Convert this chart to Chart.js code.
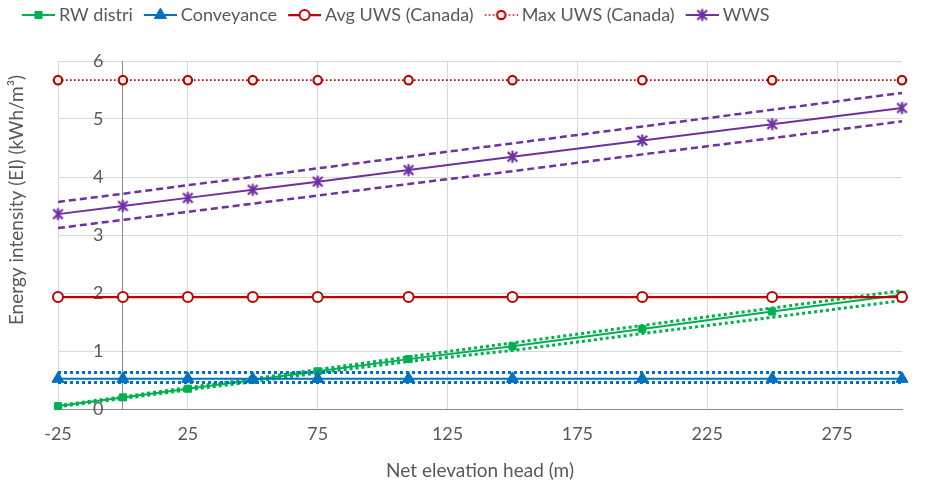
<!DOCTYPE html>
<html>
<head>
<meta charset="utf-8">
<script src="https://cdn.jsdelivr.net/npm/chart.js@4.4.0/dist/chart.umd.min.js"></script>
<style>
  html, body { margin: 0; padding: 0; background: #ffffff; }
  #wrap { width: 932px; height: 487px; position: relative; }
</style>
</head>
<body>
<div id="wrap"><canvas id="chart"></canvas></div>
<script>
// Net elevation head (m) at which each energy intensity was evaluated
const elevation = [-25, 0, 25, 50, 75, 110, 150, 200, 250, 300];
const xTicks = [-25, 25, 75, 125, 175, 225, 275];
const yTicks = [0, 1, 2, 3, 4, 5, 6];

// Energy intensity (kWh/m3)
const rwDistri     = [0.05, 0.20, 0.35, 0.50, 0.65, 0.86, 1.08, 1.38, 1.68, 1.97];
const rwDistriHigh = [0.06, 0.21, 0.37, 0.52, 0.68, 0.90, 1.14, 1.44, 1.74, 2.04];
const rwDistriLow  = [0.04, 0.18, 0.33, 0.47, 0.62, 0.82, 1.01, 1.30, 1.58, 1.87];
const conveyance     = [0.52, 0.52, 0.52, 0.52, 0.52, 0.52, 0.52, 0.52, 0.52, 0.52];
const conveyanceHigh = [0.63, 0.63, 0.63, 0.63, 0.63, 0.63, 0.63, 0.63, 0.63, 0.63];
const conveyanceLow  = [0.455, 0.455, 0.455, 0.455, 0.455, 0.455, 0.455, 0.455, 0.455, 0.455];
const avgUwsCanada = [1.93, 1.93, 1.93, 1.93, 1.93, 1.93, 1.93, 1.93, 1.93, 1.93];
const maxUwsCanada = [5.67, 5.67, 5.67, 5.67, 5.67, 5.67, 5.67, 5.67, 5.67, 5.67];
const wws     = [3.36, 3.50, 3.64, 3.78, 3.92, 4.12, 4.35, 4.63, 4.91, 5.19];
const wwsHigh = [3.57, 3.71, 3.86, 4.00, 4.15, 4.35, 4.58, 4.87, 5.16, 5.45];
const wwsLow  = [3.12, 3.26, 3.40, 3.54, 3.68, 3.88, 4.10, 4.39, 4.67, 4.96];

const GREEN = '#00B050', BLUE = '#0070C0', RED = '#C00000', PURPLE = '#7030A0';
const TEXT = '#595959', GRID = '#D9D9D9', AXIS = '#8C8C8C';
const FONT = 'Lato';

function pts(ys) { return elevation.map((x, i) => ({ x: x, y: ys[i] })); }

// six-armed asterisk marker
function asterisk(size, color, width) {
  const c = document.createElement('canvas');
  c.width = size; c.height = size;
  const g = c.getContext('2d');
  const m = size / 2, r = size / 2 - 1.5;
  g.strokeStyle = color; g.lineWidth = width; g.lineCap = 'butt';
  g.beginPath();
  g.moveTo(m, m - r); g.lineTo(m, m + r);
  g.moveTo(m - r * 0.8, m - r * 0.8); g.lineTo(m + r * 0.8, m + r * 0.8);
  g.moveTo(m + r * 0.8, m - r * 0.8); g.lineTo(m - r * 0.8, m + r * 0.8);
  g.stroke();
  return c;
}
const wwsMarker = asterisk(15, PURPLE, 2.3);

const boundBase = { pointRadius: 0, pointHoverRadius: 0, fill: false, tension: 0, clip: false };

const datasets = [
  Object.assign({ label: 'RW distri high', data: pts(rwDistriHigh), borderColor: GREEN, borderWidth: 3, borderDash: [3, 3], order: 12 }, boundBase),
  Object.assign({ label: 'RW distri low', data: pts(rwDistriLow), borderColor: GREEN, borderWidth: 3, borderDash: [3, 3], order: 11 }, boundBase),
  { label: 'RW distri', data: pts(rwDistri), borderColor: GREEN, backgroundColor: GREEN, borderWidth: 2,
    pointStyle: 'rect', pointRadius: 5, pointBorderWidth: 1, pointBackgroundColor: GREEN, pointBorderColor: GREEN,
    tension: 0, clip: false, order: 10 },
  Object.assign({ label: 'Conveyance high', data: pts(conveyanceHigh), borderColor: BLUE, borderWidth: 3, borderDash: [3, 3], order: 9 }, boundBase),
  Object.assign({ label: 'Conveyance low', data: pts(conveyanceLow), borderColor: BLUE, borderWidth: 3, borderDash: [3, 3], order: 8 }, boundBase),
  { label: 'Conveyance', data: pts(conveyance), borderColor: BLUE, backgroundColor: BLUE, borderWidth: 2,
    pointStyle: 'triangle', pointRadius: 7, pointBorderWidth: 1, pointBackgroundColor: BLUE, pointBorderColor: BLUE,
    tension: 0, clip: false, order: 7 },
  { label: 'Avg UWS (Canada)', data: pts(avgUwsCanada), borderColor: RED, backgroundColor: '#ffffff', borderWidth: 2.25,
    pointStyle: 'circle', pointRadius: 5, pointBorderWidth: 2, pointBackgroundColor: '#ffffff', pointBorderColor: RED,
    tension: 0, clip: false, order: 6 },
  { label: 'Max UWS (Canada)', data: pts(maxUwsCanada), borderColor: RED, backgroundColor: '#ffffff', borderWidth: 1.6, borderDash: [1.6, 2.4],
    pointStyle: 'circle', pointRadius: 4.2, pointBorderWidth: 2.2, pointBackgroundColor: '#ffffff', pointBorderColor: RED,
    tension: 0, clip: false, order: 5 },
  Object.assign({ label: 'WWS high', data: pts(wwsHigh), borderColor: PURPLE, borderWidth: 2.5, borderDash: [7, 4], order: 4 }, boundBase),
  Object.assign({ label: 'WWS low', data: pts(wwsLow), borderColor: PURPLE, borderWidth: 2.5, borderDash: [7, 4], order: 3 }, boundBase),
  { label: 'WWS', data: pts(wws), borderColor: PURPLE, backgroundColor: PURPLE, borderWidth: 2,
    pointStyle: wwsMarker, pointRadius: 7, pointBorderWidth: 0,
    tension: 0, clip: false, order: 2 }
];
const legendSeries = [2, 5, 6, 7, 10];

// legend swatch: a short stretch of the series line with its marker on it
function legendIcon(ds) {
  const W = 46, H = 18, x0 = 13, y = H / 2;
  const c = document.createElement('canvas');
  c.width = W; c.height = H;
  const g = c.getContext('2d');
  g.strokeStyle = ds.borderColor;
  g.lineWidth = ds.borderWidth;
  g.setLineDash(ds.borderDash || []);
  g.beginPath(); g.moveTo(x0, y); g.lineTo(W, y); g.stroke();
  g.setLineDash([]);
  const cx = (x0 + W) / 2;
  if (typeof ds.pointStyle === 'string') {
    g.fillStyle = ds.pointBackgroundColor;
    g.strokeStyle = ds.pointBorderColor;
    g.lineWidth = ds.pointBorderWidth;
    Chart.helpers.drawPoint(g, { pointStyle: ds.pointStyle, radius: ds.pointRadius, borderWidth: ds.pointBorderWidth, rotation: 0 }, cx, y);
  } else {
    g.drawImage(ds.pointStyle, cx - ds.pointStyle.width / 2, y - ds.pointStyle.height / 2);
  }
  return c;
}

const yTitle = {
  id: 'yTitle',
  afterDraw(chart) {
    const ctx = chart.ctx;
    ctx.save();
    ctx.translate(17, 200);
    ctx.rotate(-Math.PI / 2);
    ctx.font = '19px ' + FONT;
    ctx.fillStyle = TEXT;
    ctx.textAlign = 'center';
    ctx.textBaseline = 'middle';
    ctx.fillText('Energy intensity (EI) (kWh/m\u00B3)', 0, 0);
    ctx.restore();
  }
};

const legendSpacing = {
  id: 'legendSpacing',
  beforeUpdate(chart) {
    const lg = chart.legend;
    if (lg && !lg._spaced) {
      const fit = lg.fit;
      lg.fit = function () { fit.call(this); this.height = 58; };
      lg._spaced = true;
    }
  }
};

new Chart(document.getElementById('chart'), {
  type: 'scatter',
  data: { datasets: datasets.map(d => Object.assign({ showLine: true }, d)) },
  plugins: [legendSpacing, yTitle],
  options: {
    responsive: true,
    maintainAspectRatio: false,
    animation: false,
    events: [],
    layout: { padding: { left: 11, right: 30, top: 3, bottom: 0 } },
    plugins: {
      tooltip: { enabled: false },
      legend: {
        display: true,
        position: 'top',
        align: 'start',
        labels: {
          usePointStyle: true,
          pointStyleWidth: 36,
          padding: 3,
          color: TEXT,
          font: { family: FONT, size: 18 },
          generateLabels(chart) {
            return legendSeries.map(i => {
              const ds = chart.data.datasets[i];
              return { text: ds.label, pointStyle: legendIcon(ds), fillStyle: ds.borderColor,
                       strokeStyle: ds.borderColor, lineWidth: 0, hidden: false, datasetIndex: i, fontColor: TEXT };
            });
          }
        }
      }
    },
    scales: {
      x: {
        type: 'linear',
        min: -25,
        max: 300,
        afterBuildTicks(scale) { scale.ticks = xTicks.map(v => ({ value: v })); },
        afterFit(scale) { scale.height = 78; },
        ticks: { color: TEXT, font: { family: FONT, size: 18 }, padding: 14, maxRotation: 0 },
        grid: { color: GRID, lineWidth: 1, drawTicks: false },
        border: { display: true, color: AXIS, width: 1 },
        title: { display: true, text: 'Net elevation head (m)', color: TEXT, font: { family: FONT, size: 19 }, padding: { top: 17, bottom: 5 } }
      },
      y: {
        type: 'linear',
        position: 'left',
        min: 0,
        max: 6,
        afterBuildTicks(scale) { scale.ticks = yTicks.map(v => ({ value: v })); },
        afterFit(scale) { scale.width = 47; },
        ticks: { display: false },
        grid: { color: GRID, lineWidth: 1, drawTicks: false },
        border: { display: false }
      },
      // vertical axis line where the net elevation head is zero
      yZero: {
        type: 'linear',
        position: { x: 0 },
        min: 0,
        max: 6,
        afterBuildTicks(scale) { scale.ticks = yTicks.map(v => ({ value: v })); },
        ticks: { display: false },
        grid: { display: false, drawTicks: false },
        border: { display: true, color: AXIS, width: 1 }
      },
      // value labels set just left of that line
      yLabels: {
        type: 'linear',
        position: { x: -7.5 },
        min: 0,
        max: 6,
        afterBuildTicks(scale) { scale.ticks = yTicks.map(v => ({ value: v })); },
        ticks: { color: TEXT, font: { family: FONT, size: 18 } },
        grid: { display: false, drawTicks: false },
        border: { display: false }
      }
    }
  }
});
</script>
</body>
</html>
